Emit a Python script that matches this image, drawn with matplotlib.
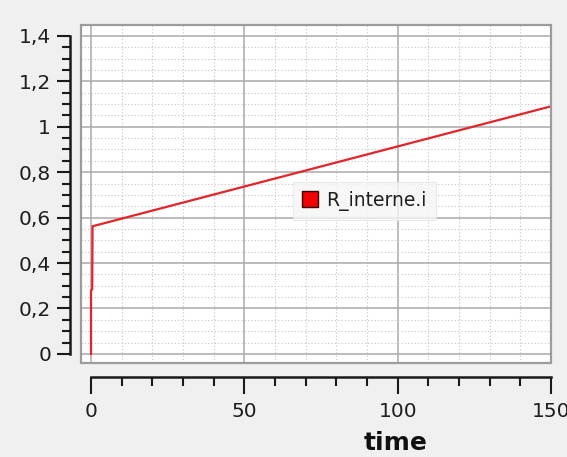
import matplotlib
matplotlib.use("Agg")
import matplotlib.pyplot as plt
from matplotlib.lines import Line2D
from matplotlib.patches import Rectangle
from matplotlib.ticker import MultipleLocator, FuncFormatter

# data
time = [0.0, 0.0, 0.4, 0.5, 150.0]
r_interne_i = [0.0, 0.28, 0.285, 0.562, 1.09]
series_label = "R_interne.i"
x_label = "time"
x_ticks = [0, 50, 100, 150]
y_ticks = [0, 0.2, 0.4, 0.6, 0.8, 1.0, 1.2, 1.4]

W, H = 567, 457
fig = plt.figure(figsize=(W / 100, H / 100), dpi=100)
fig.patch.set_facecolor("#f0f0f0")

left, right, top, bottom = 81, 551, 25, 363
ax = fig.add_axes([left / W, 1 - bottom / H, (right - left) / W, (bottom - top) / H])
ax.set_facecolor("white")

ax.plot(time, r_interne_i, color="#e3242b", lw=1.6, zorder=3)

ax.set_xlim(-3.26, 150)
ax.set_ylim(-0.04, 1.448)

ax.xaxis.set_major_locator(MultipleLocator(50))
ax.xaxis.set_minor_locator(MultipleLocator(10))
ax.yaxis.set_major_locator(MultipleLocator(0.2))
ax.yaxis.set_minor_locator(MultipleLocator(0.05))
ax.set_xticks(x_ticks)
ax.set_yticks(y_ticks)

def fmt(v, pos):
    s = ("%.1f" % v).rstrip("0").rstrip(".")
    return s.replace(".", ",")

ax.yaxis.set_major_formatter(FuncFormatter(fmt))
ax.xaxis.set_major_formatter(FuncFormatter(fmt))

ax.grid(True, which="major", color="#a9a9a9", lw=1.1, zorder=1)
ax.grid(True, which="minor", color="#c4c4c4", lw=0.8, ls=(0, (1, 2)), zorder=1)
ax.set_axisbelow(True)

for s in ["top", "right"]:
    ax.spines[s].set_visible(False)
ax.spines["left"].set_position(("outward", 8))
ax.spines["bottom"].set_position(("outward", 10))
ax.spines["left"].set_bounds(0, 1.4)
ax.spines["bottom"].set_bounds(0, 150)
for s in ["left", "bottom"]:
    ax.spines[s].set_color("#1a1a1a")
    ax.spines[s].set_linewidth(1.8)

ax.tick_params(axis="x", which="major", direction="out", length=12, width=1.5,
               color="#1a1a1a", labelsize=14.5, pad=6, labelcolor="#1e1e1e")
ax.tick_params(axis="x", which="minor", direction="out", length=6.5, width=1.5,
               color="#1a1a1a")
ax.tick_params(axis="y", which="major", direction="out", length=9.5, width=1.5,
               color="#1a1a1a", labelsize=14.5, pad=4, labelcolor="#1e1e1e")
ax.tick_params(axis="y", which="minor", direction="out", length=5.5, width=1.5,
               color="#1a1a1a")

# plot frame
ax.add_patch(Rectangle((0, 0), 1, 1, transform=ax.transAxes, fill=False,
                       edgecolor="#9c9c9c", lw=1.6, clip_on=False, zorder=4))

handle = Line2D([], [], ls="none", marker="s", markersize=11,
                markerfacecolor="#f00000", markeredgecolor="#3a0000",
                markeredgewidth=1.0)
leg = ax.legend([handle], [series_label], loc="center left",
                bbox_to_anchor=(284 / W, 1 - 201 / H),
                bbox_transform=fig.transFigure, fontsize=13.5,
                frameon=True, fancybox=False, handlelength=0.8,
                handletextpad=0.45, borderpad=0.5)
leg.get_frame().set_facecolor("#f6f6f6")
leg.get_frame().set_edgecolor("#e6e6e6")
leg.get_frame().set_linewidth(0.8)
for t in leg.get_texts():
    t.set_color("#1e1e1e")

fig.text(396 / W, 1 - 443 / H, x_label, ha="center", va="center",
         fontsize=18, fontweight="bold", color="#111111")

fig.savefig("out.png", dpi=100, facecolor=fig.get_facecolor())
